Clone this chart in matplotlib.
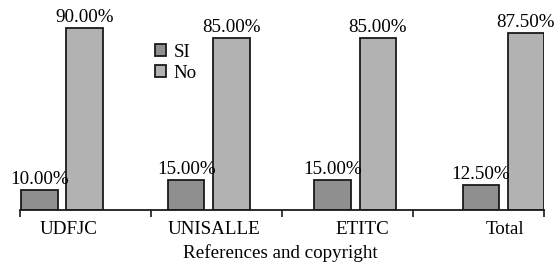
import matplotlib.pyplot as plt
from matplotlib.patches import Patch

# datos
categories = ['UDFJC', 'UNISALLE', 'ETITC', 'Total']
si_values = [10.0, 15.0, 15.0, 12.5]
no_values = [90.0, 85.0, 85.0, 87.5]

# posiciones de grupo (el original no esta centrado en cada tramo)
group_pos = [0.32, 1.44, 2.56, 3.69]
label_pos = [0.37, 1.48, 2.61, 3.70]
bar_w = 0.28
off = 0.172
fs = 13.7

plt.rcParams['font.family'] = ['Liberation Serif', 'DejaVu Serif']

fig = plt.figure(figsize=(5.6, 2.69), dpi=100)
ax = fig.add_axes([0.0357, 0.219, 0.9357, 0.751])

si_pos = [p - off for p in group_pos]
no_pos = [p + off for p in group_pos]
b1 = ax.bar(si_pos, si_values, width=bar_w, color='#8f8f8f', edgecolor='#1a1a1a', linewidth=1.3)
b2 = ax.bar(no_pos, no_values, width=bar_w, color='#b2b2b2', edgecolor='#1a1a1a', linewidth=1.3)

for x, v in zip(si_pos, si_values):
    ax.text(x, v + 1, f'{v:.2f}%', ha='center', va='bottom', fontsize=fs)
for x, v in zip(no_pos, no_values):
    ax.text(x, v + 1, f'{v:.2f}%', ha='center', va='bottom', fontsize=fs)

ax.set_xlim(0, 4)
ax.set_ylim(0, 100)
ax.set_xticks([0, 1, 2, 3, 4])
ax.set_xticklabels([])
ax.tick_params(axis='x', length=5, width=1.2, color='#1a1a1a')
for x, c in zip(label_pos, categories):
    ax.text(x, -5.5, c, ha='center', va='top', fontsize=fs)
ax.set_yticks([])
for s in ['top', 'right', 'left']:
    ax.spines[s].set_visible(False)
ax.spines['bottom'].set_linewidth(1.3)
ax.spines['bottom'].set_color('#1a1a1a')

fig.text(0.5, 0.025, 'References and copyright', ha='center', va='bottom', fontsize=fs)

handles = [Patch(facecolor='#8f8f8f', edgecolor='#1a1a1a', linewidth=1.3, label='SI'),
           Patch(facecolor='#b2b2b2', edgecolor='#1a1a1a', linewidth=1.3, label='No')]
ax.legend(handles=handles, loc='upper left', bbox_to_anchor=(0.243, 0.86), frameon=False,
          fontsize=fs, handlelength=0.6, handleheight=0.6, handletextpad=0.4,
          labelspacing=0.2, borderaxespad=0)

fig.savefig('out.png', dpi=100)
